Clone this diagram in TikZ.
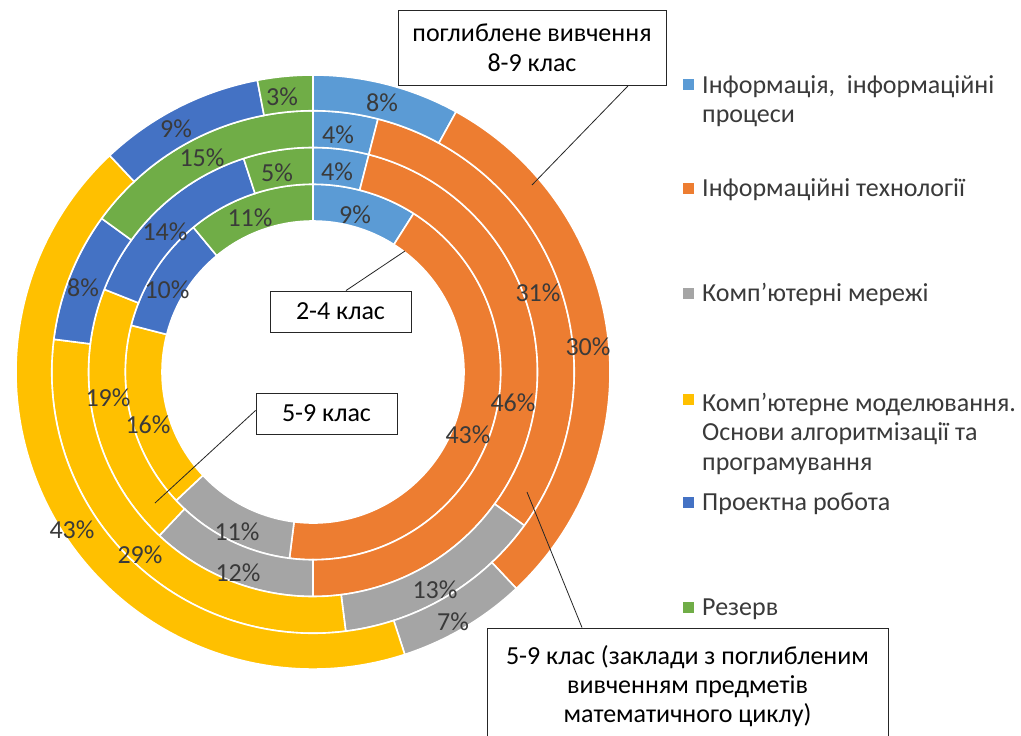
\documentclass[tikz,border=0pt]{standalone}
\usepackage{fontspec}
\setmainfont{Carlito}
\usetikzlibrary{calc}

\definecolor{segblue}{HTML}{5B9BD5}
\definecolor{segorange}{HTML}{ED7D31}
\definecolor{seggray}{HTML}{A5A5A5}
\definecolor{segyellow}{HTML}{FFC000}
\definecolor{segdblue}{HTML}{4472C4}
\definecolor{seggreen}{HTML}{70AD47}
\definecolor{labelgray}{HTML}{3A3A3A}

% one annular sector: colour, from %, to %, inner radius, outer radius (pt)
\newcommand\donutseg[5]{%
  \filldraw[seg, fill=#1]
    ({90-3.6*#2}:#5pt) arc[start angle={90-3.6*#2}, end angle={90-3.6*#3}, radius=#5pt]
    -- ({90-3.6*#3}:#4pt) arc[start angle={90-3.6*#3}, end angle={90-3.6*#2}, radius=#4pt]
    -- cycle;}
% one full ring: inner radius, outer radius, five cumulative boundaries in %
\newcommand\donutring[7]{%
  \donutseg{segblue}{0}{#3}{#1}{#2}
  \donutseg{segorange}{#3}{#4}{#1}{#2}
  \donutseg{seggray}{#4}{#5}{#1}{#2}
  \donutseg{segyellow}{#5}{#6}{#1}{#2}
  \donutseg{segdblue}{#6}{#7}{#1}{#2}
  \donutseg{seggreen}{#7}{100}{#1}{#2}}

\tikzset{
  seg/.style={draw=white, line width=1.6pt},
  pct/.style={font=\fontsize{26}{30}\selectfont, text=labelgray, inner sep=0pt},
  legkey/.style={minimum size=11pt, inner sep=0pt, draw=none},
  legtext/.style={font=\fontsize{26}{29.5}\selectfont, text=labelgray, anchor=base west, align=left, inner sep=0pt},
  callout/.style={draw=black!85, line width=0.9pt, fill=white, font=\fontsize{26}{30}\selectfont,
                  text=black, align=center, inner sep=0pt},
  leader/.style={draw=black!85, line width=0.8pt},
}

\begin{document}
\begin{tikzpicture}[x=1pt, y=-1pt]
\useasboundingbox (0,0) rectangle (1021,736);
\clip (0,0) rectangle (1021,736);
\fill[white] (0,0) rectangle (1021,736);

% the four rings, innermost first
\begin{scope}[shift={(313,372)}]
  \donutring{151}{187.75}{9}{52}{63}{79}{89}
  \donutring{187.75}{224.5}{4}{50}{62}{81}{95}
  \donutring{224.5}{261.25}{4}{35}{48}{77}{85}
  \donutring{261.25}{297}{8}{38}{45}{88}{97}
\end{scope}

% percentage labels, outer ring
\node[pct] (o1) at (382,103) {8\%};
\node[pct] (o2) at (588,347) {30\%};
\node[pct] (o3) at (453,622) {7\%};
\node[pct] (o4) at (72,530) {43\%};
\node[pct] (o5) at (176,129) {9\%};
\node[pct] (o6) at (282,97) {3\%};
% third ring
\node[pct] (t1) at (338,135) {4\%};
\node[pct] (t2) at (538,293) {31\%};
\node[pct] (t3) at (435,590) {13\%};
\node[pct] (t4) at (140,555) {29\%};
\node[pct] (t5) at (83,288) {8\%};
\node[pct] (t6) at (202,158) {15\%};
% second ring
\node[pct] (s1) at (337,172) {4\%};
\node[pct] (s2) at (513,403) {46\%};
\node[pct] (s3) at (238,573) {12\%};
\node[pct] (s4) at (108,398) {19\%};
\node[pct] (s5) at (165,232) {14\%};
\node[pct] (s6) at (277,173) {5\%};
% inner ring
\node[pct] (i1) at (355,215) {9\%};
\node[pct] (i2) at (468,435) {43\%};
\node[pct] (i3) at (237,532) {11\%};
\node[pct] (i4) at (148,425) {16\%};
\node[pct] (i5) at (167,290) {10\%};
\node[pct] (i6) at (250,218) {11\%};

% callout boxes
\node[callout, minimum width=268pt, minimum height=75pt] (b89) at (532,47.5)
  {поглиблене вивчення\\8-9 клас};
\node[callout, minimum width=141pt, minimum height=41pt] (b24) at (340.5,311.5) {2-4 клас};
\node[callout, minimum width=141pt, minimum height=41pt] (b59) at (326.5,413.5) {5-9 клас};
\node[callout, minimum width=401pt, minimum height=116pt, font=\fontsize{26}{29}\selectfont] (bmath) at (687.5,686)
  {5-9 клас (заклади з поглибленим\\вивченням предметів\\математичного циклу)};

% leader lines from the boxes into their rings
\coordinate (e89) at (532,185);
\coordinate (e24) at (405,251);
\coordinate (e59) at (155,503);
\coordinate (emath) at (527,492);
\draw[leader] ([xshift=-38pt]b89.south east) -- (e89);
\draw[leader] ([xshift=5.5pt]b24.north) -- (e24);
\draw[leader] ([yshift=3pt]b59.west) -- (e59);
\draw[leader] ([xshift=-105.5pt]bmath.north) -- (emath);

% legend (multi-line entries are placed by the baseline of their last line)
\node[legkey, fill=segblue]   (k1) at (688,84)  {};
\node[legkey, fill=segorange] (k2) at (688,188) {};
\node[legkey, fill=seggray]   (k3) at (688,293) {};
\node[legkey, fill=segyellow] (k4) at (688,399) {};
\node[legkey, fill=segdblue]  (k5) at (688,502) {};
\node[legkey, fill=seggreen]  (k6) at (688,607) {};
\node[legtext] (l1) at (702,122.5) {Інформація,~ інформаційні\\процеси};
\node[legtext] (l2) at (702,196) {Інформаційні технології};
\node[legtext] (l3) at (702,301) {Комп’ютерні мережі};
\node[legtext] (l4) at (702,470) {Комп’ютерне моделювання.\\Основи алгоритмізації та\\програмування};
\node[legtext] (l5) at (702,510) {Проектна робота};
\node[legtext] (l6) at (702,615) {Резерв};
\end{tikzpicture}
\end{document}
